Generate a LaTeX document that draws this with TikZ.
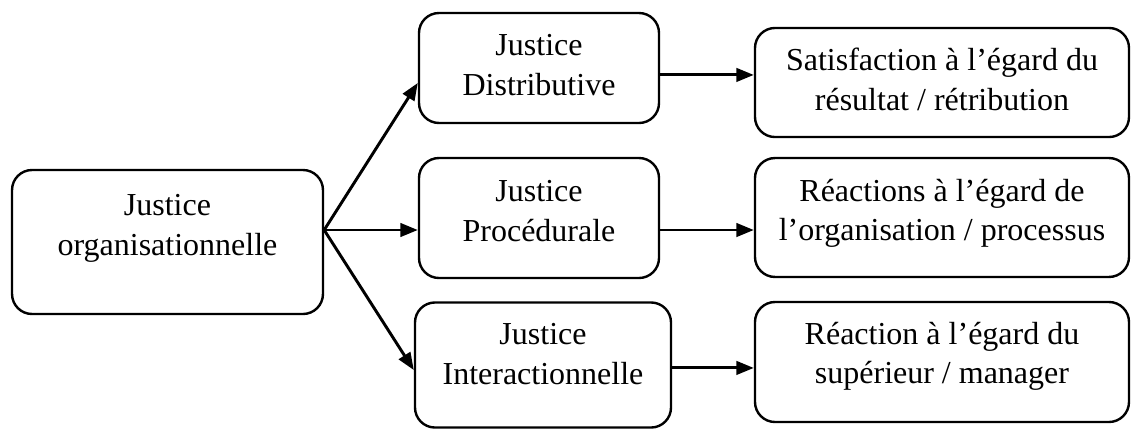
\documentclass[tikz,border=0pt]{standalone}
\usepackage{fontspec}
\setmainfont{Liberation Serif}
\usetikzlibrary{arrows.meta}

\tikzset{
  bloc/.style={draw, line width=0.9pt, rounded corners=7.5pt, inner sep=0pt},
  etiq/.style={align=center, inner sep=0pt, font=\fontsize{12}{14.8}\selectfont,
    execute at begin node=\strut, execute at end node=\strut},
  fleche/.style={line width=1.1pt, -{Triangle[length=6.5pt,width=5pt]}}
}

\begin{document}
\begin{tikzpicture}[x=0.375pt,y=-0.375pt]
  \useasboundingbox (0,0) rectangle (1131,430);

  % source
  \node[bloc, minimum width=116.6pt, minimum height=54pt] (org) at (167.5,242) {};
  \node[etiq] (orgtxt) at (167.5,231) {Justice\\organisationnelle};

  % les trois formes de justice
  \node[bloc, minimum width=90pt, minimum height=41.25pt] (dist) at (539,68) {};
  \node[etiq] (disttxt) at (539,71) {Justice\\Distributive};

  \node[bloc, minimum width=90pt, minimum height=45pt] (proc) at (539,218) {};
  \node[etiq] (proctxt) at (539,217) {Justice\\Procédurale};

  \node[bloc, minimum width=96pt, minimum height=46.9pt] (inter) at (543,365) {};
  \node[etiq] (intertxt) at (543,360) {Justice\\Interactionnelle};

  % les effets
  \node[bloc, minimum width=140.25pt, minimum height=40.9pt] (sat) at (942,82.5) {};
  \node[etiq] (sattxt) at (942,85) {Satisfaction à l’égard du\\résultat / rétribution};

  \node[bloc, minimum width=140.25pt, minimum height=44.6pt] (reorg) at (942,217.5) {};
  \node[etiq] (reorgtxt) at (942,216) {Réactions à l’égard de\\l’organisation / processus};

  \node[bloc, minimum width=140.25pt, minimum height=45pt] (resup) at (942,362) {};
  \node[etiq] (resuptxt) at (942,359) {Réaction à l’égard du\\supérieur / manager};

  % fleches
  \coordinate (hub) at ([yshift=4.5pt]org.east);
  \draw[fleche] (hub) -- ([yshift=-5.6pt]dist.west);
  \draw[fleche] (hub) -- ([yshift=-4.5pt]proc.west);
  \draw[fleche] (hub) -- ([yshift=-1.9pt]inter.west);

  \coordinate (d1) at ([yshift=-2.6pt]dist.east);
  \coordinate (p1) at ([yshift=-4.5pt]proc.east);
  \coordinate (i1) at ([yshift=-1.1pt]inter.east);
  \draw[fleche] (d1) -- (d1 -| sat.west);
  \draw[fleche] (p1) -- (p1 -| reorg.west);
  \draw[fleche] (i1) -- (i1 -| resup.west);
\end{tikzpicture}
\end{document}
